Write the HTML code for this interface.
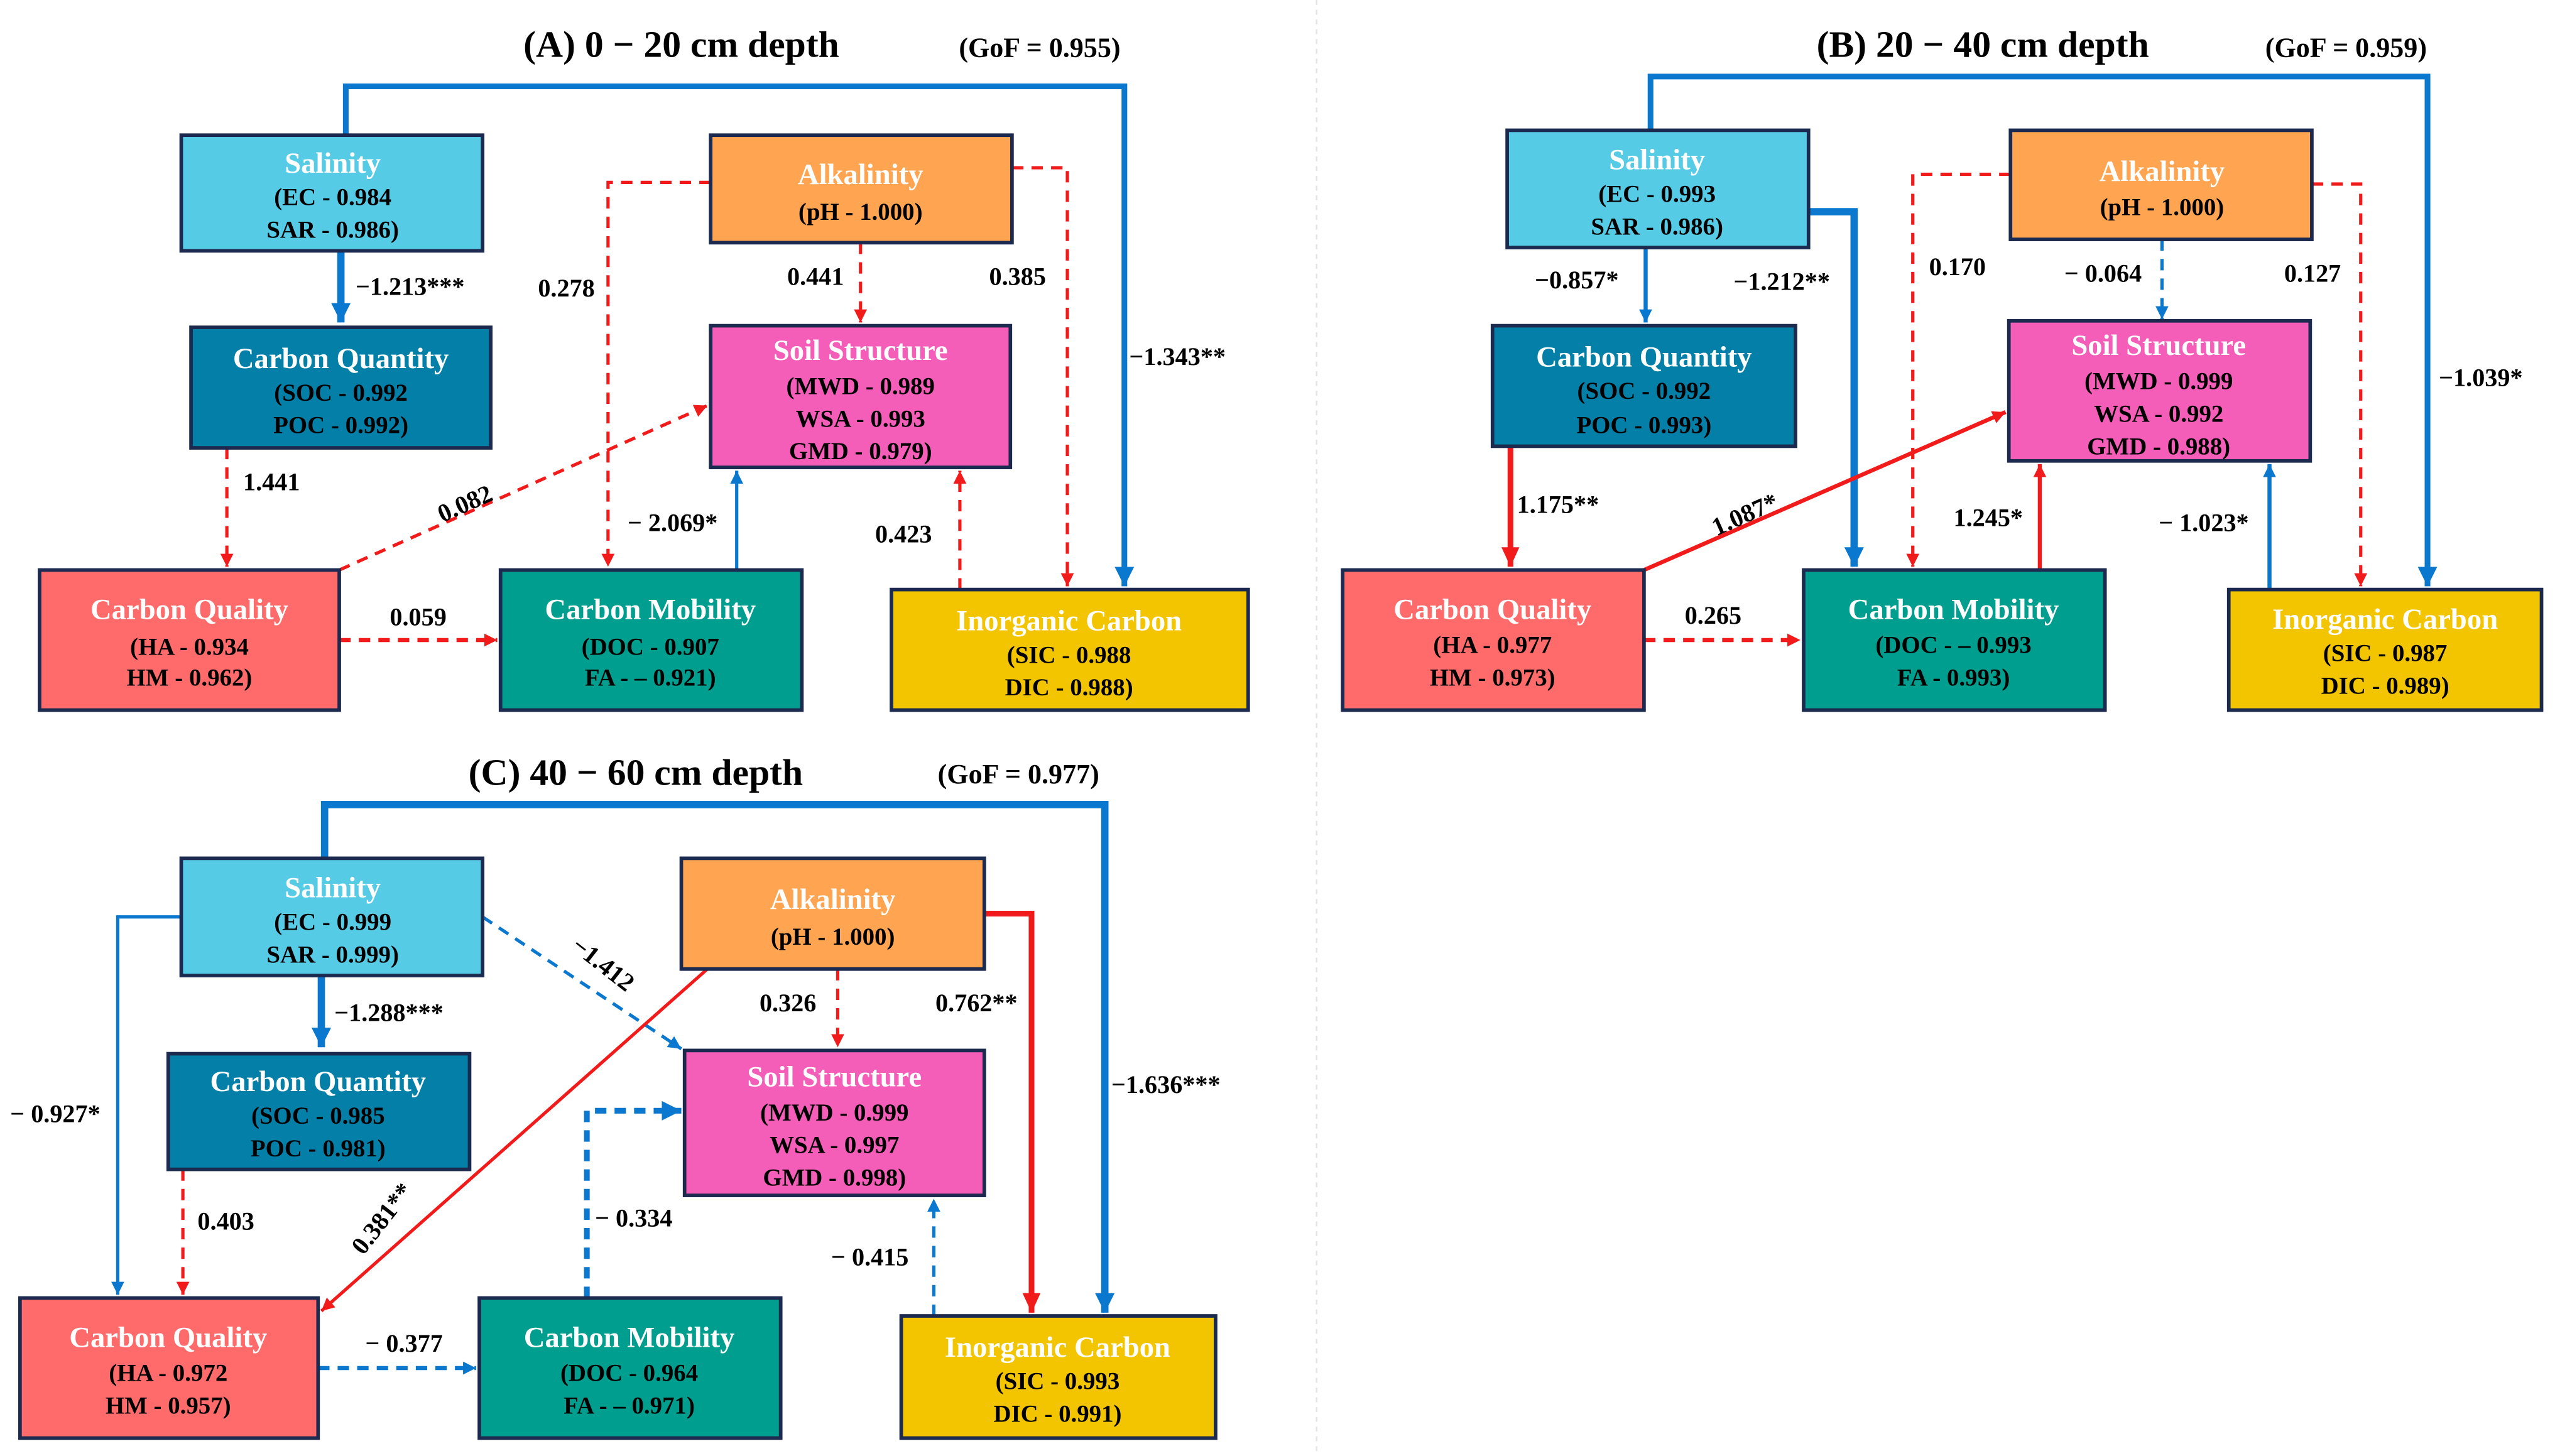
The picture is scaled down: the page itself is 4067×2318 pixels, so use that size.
<!DOCTYPE html>
<html><head><meta charset="utf-8"><style>
html,body{margin:0;padding:0;background:#fff}
svg{display:block}
text{font-family:"Liberation Serif",serif;font-weight:bold}
.t{fill:#fff;font-size:18px;text-anchor:middle}
.l{fill:#000;font-size:15px;text-anchor:middle}
.lab{fill:#000;font-size:15.5px}
.ttl{fill:#000;font-size:23px;text-anchor:middle}
.gof{fill:#000;font-size:17px;text-anchor:middle}
rect{stroke:#1b2a4e;stroke-width:2.2}
.r{stroke:#f21b1b;fill:none}
.b{stroke:#0a78cf;fill:none}
.d{stroke-dasharray:7 5}
</style></head><body>
<svg width="4067" height="2318" viewBox="0 0 1568 894" xmlns="http://www.w3.org/2000/svg">
<defs>
<marker id="ar" markerUnits="userSpaceOnUse" markerWidth="10" markerHeight="10" refX="8" refY="4" orient="auto"><path d="M0,0 L8,4 L0,8 z" fill="#f21b1b"/></marker>
<marker id="ab" markerUnits="userSpaceOnUse" markerWidth="10" markerHeight="10" refX="8" refY="4" orient="auto"><path d="M0,0 L8,4 L0,8 z" fill="#0a78cf"/></marker>
<marker id="abl" markerUnits="userSpaceOnUse" markerWidth="14" markerHeight="14" refX="12" refY="6" orient="auto"><path d="M0,0 L12,6 L0,12 z" fill="#0a78cf"/></marker>
<marker id="arl" markerUnits="userSpaceOnUse" markerWidth="14" markerHeight="14" refX="12" refY="5.5" orient="auto"><path d="M0,0 L12,5.5 L0,11 z" fill="#f21b1b"/></marker>
</defs>
<line x1="808" y1="0" x2="808" y2="894" stroke="#e4e4e4" stroke-dasharray="3 3"/>

<!-- Panel A -->
<text class="ttl" x="418" y="35">(A) 0 − 20 cm depth</text>
<text class="gof" x="638" y="35">(GoF = 0.955)</text>
<path class="b" stroke-width="3.5" d="M212,83 V53 H690 V360" marker-end="url(#abl)"/>
<path class="b" stroke-width="4.5" d="M209,154 V198" marker-end="url(#abl)"/>
<path class="r d" stroke-width="2" d="M436,112 H373 V348" marker-end="url(#ar)"/>
<path class="r d" stroke-width="2" d="M528,149 V198" marker-end="url(#ar)"/>
<path class="r d" stroke-width="2" d="M621,103 H655 V360" marker-end="url(#ar)"/>
<path class="r d" stroke-width="2" d="M139,275 V348" marker-end="url(#ar)"/>
<path class="r d" stroke-width="2" d="M208,350 L434,249" marker-end="url(#ar)"/>
<path class="r d" stroke-width="2.5" d="M208,393 H305" marker-end="url(#ar)"/>
<path class="b" stroke-width="2" d="M452,350 V289" marker-end="url(#ab)"/>
<path class="r d" stroke-width="2" d="M589,362 V289" marker-end="url(#ar)"/>
<rect x="111" y="83" width="185" height="71" fill="#56cbe6"/>
<text class="t" x="204" y="106">Salinity</text><text class="l" x="204" y="126">(EC - 0.984</text><text class="l" x="204" y="146">SAR - 0.986)</text>
<rect x="436" y="83" width="185" height="66" fill="#ffa450"/>
<text class="t" x="528" y="113">Alkalinity</text><text class="l" x="528" y="135">(pH - 1.000)</text>
<rect x="117" y="201" width="184" height="74" fill="#0480a8"/>
<text class="t" x="209" y="226">Carbon Quantity</text><text class="l" x="209" y="246">(SOC - 0.992</text><text class="l" x="209" y="266">POC - 0.992)</text>
<rect x="436" y="200" width="184" height="87" fill="#f45db8"/>
<text class="t" x="528" y="221">Soil Structure</text><text class="l" x="528" y="242">(MWD - 0.989</text><text class="l" x="528" y="262">WSA - 0.993</text><text class="l" x="528" y="282">GMD - 0.979)</text>
<rect x="24" y="350" width="184" height="86" fill="#ff6b6b"/>
<text class="t" x="116" y="380">Carbon Quality</text><text class="l" x="116" y="402">(HA - 0.934</text><text class="l" x="116" y="421">HM - 0.962)</text>
<rect x="307" y="350" width="185" height="86" fill="#009e8e"/>
<text class="t" x="399" y="380">Carbon Mobility</text><text class="l" x="399" y="402">(DOC -  0.907</text><text class="l" x="399" y="421">FA - – 0.921)</text>
<rect x="547" y="362" width="219" height="74" fill="#f2c500"/>
<text class="t" x="656" y="387">Inorganic Carbon</text><text class="l" x="656" y="407">(SIC - 0.988</text><text class="l" x="656" y="427">DIC - 0.988)</text>
<text class="lab" x="218" y="181">−1.213***</text>
<text class="lab" x="330" y="182">0.278</text>
<text class="lab" x="483" y="175">0.441</text>
<text class="lab" x="607" y="175">0.385</text>
<text class="lab" x="693" y="224">−1.343**</text>
<text class="lab" x="149" y="301">1.441</text>
<text class="lab" x="266" y="314" transform="rotate(-24 285 305)">0.082</text>
<text class="lab" x="239" y="384">0.059</text>
<text class="lab" x="385" y="326">− 2.069*</text>
<text class="lab" x="537" y="333">0.423</text>

<!-- Panel B -->
<text class="ttl" x="1217" y="35">(B) 20 − 40 cm depth</text>
<text class="gof" x="1440" y="35">(GoF = 0.959)</text>
<path class="b" stroke-width="3.5" d="M1013,80 V47 H1490 V360" marker-end="url(#abl)"/>
<path class="b" stroke-width="2.5" d="M1010,152 V198" marker-end="url(#ab)"/>
<path class="b" stroke-width="4.5" d="M1110,130 H1138 V348" marker-end="url(#abl)"/>
<path class="r d" stroke-width="2" d="M1234,107 H1174 V348" marker-end="url(#ar)"/>
<path class="b d" stroke-width="2" d="M1327,147 V196" marker-end="url(#ab)"/>
<path class="r d" stroke-width="2" d="M1419,113 H1449 V360" marker-end="url(#ar)"/>
<path class="r" stroke-width="3.5" d="M927,274 V348" marker-end="url(#arl)"/>
<path class="r" stroke-width="2.5" d="M1009,350 L1231,253" marker-end="url(#ar)"/>
<path class="r d" stroke-width="2.5" d="M1009,393 H1105" marker-end="url(#ar)"/>
<path class="r" stroke-width="2.5" d="M1252,350 V285" marker-end="url(#ar)"/>
<path class="b" stroke-width="2.5" d="M1393,362 V285" marker-end="url(#ab)"/>
<rect x="925" y="80" width="185" height="72" fill="#56cbe6"/>
<text class="t" x="1017" y="104">Salinity</text><text class="l" x="1017" y="124">(EC - 0.993</text><text class="l" x="1017" y="144">SAR - 0.986)</text>
<rect x="1234" y="80" width="185" height="67" fill="#ffa450"/>
<text class="t" x="1327" y="111">Alkalinity</text><text class="l" x="1327" y="132">(pH - 1.000)</text>
<rect x="916" y="200" width="186" height="74" fill="#0480a8"/>
<text class="t" x="1009" y="225">Carbon Quantity</text><text class="l" x="1009" y="245">(SOC - 0.992</text><text class="l" x="1009" y="266">POC - 0.993)</text>
<rect x="1233" y="197" width="185" height="86" fill="#f45db8"/>
<text class="t" x="1325" y="218">Soil Structure</text><text class="l" x="1325" y="239">(MWD - 0.999</text><text class="l" x="1325" y="259">WSA - 0.992</text><text class="l" x="1325" y="279">GMD - 0.988)</text>
<rect x="824" y="350" width="185" height="86" fill="#ff6b6b"/>
<text class="t" x="916" y="380">Carbon Quality</text><text class="l" x="916" y="401">(HA - 0.977</text><text class="l" x="916" y="421">HM - 0.973)</text>
<rect x="1107" y="350" width="185" height="86" fill="#009e8e"/>
<text class="t" x="1199" y="380">Carbon Mobility</text><text class="l" x="1199" y="401">(DOC - – 0.993</text><text class="l" x="1199" y="421">FA - 0.993)</text>
<rect x="1368" y="362" width="192" height="74" fill="#f2c500"/>
<text class="t" x="1464" y="386">Inorganic Carbon</text><text class="l" x="1464" y="406">(SIC - 0.987</text><text class="l" x="1464" y="426">DIC - 0.989)</text>
<text class="lab" x="942" y="177">−0.857*</text>
<text class="lab" x="1064" y="178">−1.212**</text>
<text class="lab" x="1184" y="169">0.170</text>
<text class="lab" x="1267" y="173">− 0.064</text>
<text class="lab" x="1402" y="173">0.127</text>
<text class="lab" x="1497" y="237">−1.039*</text>
<text class="lab" x="931" y="315">1.175**</text>
<text class="lab" x="1048" y="321" transform="rotate(-24 1070 312)">1.087*</text>
<text class="lab" x="1034" y="383">0.265</text>
<text class="lab" x="1199" y="323">1.245*</text>
<text class="lab" x="1325" y="326">− 1.023*</text>

<!-- Panel C -->
<text class="ttl" x="390" y="482">(C) 40 − 60 cm depth</text>
<text class="gof" x="625" y="481">(GoF = 0.977)</text>
<path class="b" stroke-width="4.5" d="M199,527 V494 H678 V806" marker-end="url(#abl)"/>
<path class="b" stroke-width="4.5" d="M197,599 V643" marker-end="url(#abl)"/>
<path class="b" stroke-width="2" d="M111,563 H72 V795" marker-end="url(#ab)"/>
<path class="b d" stroke-width="2" d="M296,563 L418,644" marker-end="url(#ab)"/>
<path class="r" stroke-width="2" d="M434,595 L197,805" marker-end="url(#ar)"/>
<path class="r d" stroke-width="2" d="M514,595 V643" marker-end="url(#ar)"/>
<path class="r" stroke-width="3.5" d="M604,561 H633 V806" marker-end="url(#arl)"/>
<path class="r d" stroke-width="2" d="M112,718 V795" marker-end="url(#ar)"/>
<path class="b d" stroke-width="2.5" d="M195,840 H292" marker-end="url(#ab)"/>
<path class="b d" stroke-width="3.5" d="M360,797 V682 H418" marker-end="url(#abl)"/>
<path class="b d" stroke-width="2" d="M573,808 V736" marker-end="url(#ab)"/>
<rect x="111" y="527" width="185" height="72" fill="#56cbe6"/>
<text class="t" x="204" y="551">Salinity</text><text class="l" x="204" y="571">(EC - 0.999</text><text class="l" x="204" y="591">SAR - 0.999)</text>
<rect x="418" y="527" width="186" height="68" fill="#ffa450"/>
<text class="t" x="511" y="558">Alkalinity</text><text class="l" x="511" y="580">(pH - 1.000)</text>
<rect x="103" y="647" width="185" height="71" fill="#0480a8"/>
<text class="t" x="195" y="670">Carbon Quantity</text><text class="l" x="195" y="690">(SOC - 0.985</text><text class="l" x="195" y="710">POC - 0.981)</text>
<rect x="420" y="645" width="184" height="89" fill="#f45db8"/>
<text class="t" x="512" y="667">Soil Structure</text><text class="l" x="512" y="688">(MWD - 0.999</text><text class="l" x="512" y="708">WSA - 0.997</text><text class="l" x="512" y="728">GMD - 0.998)</text>
<rect x="12" y="797" width="183" height="86" fill="#ff6b6b"/>
<text class="t" x="103" y="827">Carbon Quality</text><text class="l" x="103" y="848">(HA -  0.972</text><text class="l" x="103" y="868">HM -  0.957)</text>
<rect x="294" y="797" width="185" height="86" fill="#009e8e"/>
<text class="t" x="386" y="827">Carbon Mobility</text><text class="l" x="386" y="848">(DOC - 0.964</text><text class="l" x="386" y="868">FA - – 0.971)</text>
<rect x="553" y="808" width="193" height="75" fill="#f2c500"/>
<text class="t" x="649" y="833">Inorganic Carbon</text><text class="l" x="649" y="853">(SIC - 0.993</text><text class="l" x="649" y="873">DIC - 0.991)</text>
<text class="lab" x="205" y="627">−1.288***</text>
<text class="lab" x="6" y="689">− 0.927*</text>
<text class="lab" x="345" y="596" transform="rotate(38 367 596)">−1.412</text>
<text class="lab" x="466" y="621">0.326</text>
<text class="lab" x="574" y="621">0.762**</text>
<text class="lab" x="682" y="671">−1.636***</text>
<text class="lab" x="121" y="755">0.403</text>
<text class="lab" x="210" y="755" transform="rotate(-52 233 750)">0.381**</text>
<text class="lab" x="365" y="753">− 0.334</text>
<text class="lab" x="510" y="777">− 0.415</text>
<text class="lab" x="224" y="830">− 0.377</text>
</svg>
</body></html>
